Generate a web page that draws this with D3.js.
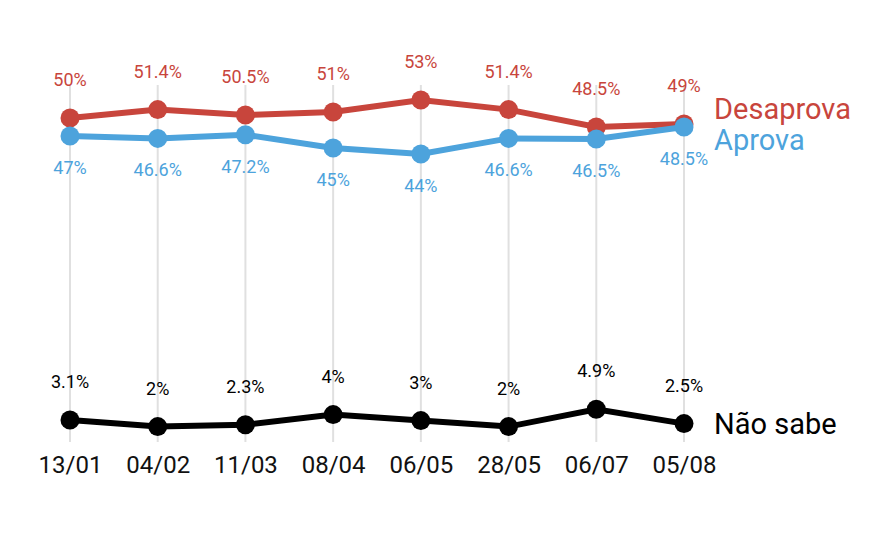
<!DOCTYPE html>
<html><head><meta charset="utf-8">
<script src="https://cdn.jsdelivr.net/npm/d3@7"></script>
<style>body{margin:0;background:#fff}text{font-family:"Liberation Sans Narrow","Roboto",sans-serif}</style>
</head><body><div id="chart"></div>
<script>
const dates = ["13/01","04/02","11/03","08/04","06/05","28/05","06/07","05/08"];
const desaprova = [50, 51.4, 50.5, 51, 53, 51.4, 48.5, 49];
const aprova = [47, 46.6, 47.2, 45, 44, 46.6, 46.5, 48.5];
const naoSabe = [3.1, 2, 2.3, 4, 3, 2, 4.9, 2.5];

const width = 872, height = 540;
const svg = d3.select("#chart").append("svg").attr("width", width).attr("height", height);

const x = d3.scalePoint(dates, [70, 684]);
const yMain = d3.scaleLinear([40, 55], [178, 88]);
const ySmall = d3.scaleLinear([0, 6], [438.6, 402.6]);

svg.append("g").selectAll("line").data(dates).join("line")
  .attr("x1", d => x(d)).attr("x2", d => x(d))
  .attr("y1", 85).attr("y2", 442)
  .attr("stroke", "#e0e0e0").attr("stroke-width", 2);

svg.append("g").attr("transform", "translate(0,442)")
  .call(d3.axisBottom(x).tickSize(0).tickPadding(14))
  .call(g => g.select(".domain").remove())
  .call(g => g.selectAll("text").attr("font-size", 24).attr("fill", "#111")
    .attr("font-family", "Liberation Sans Narrow, Roboto, sans-serif"));

const series = [
  {name: "Desaprova", values: desaprova, y: yMain, color: "#c8453c", dy: -32, size: 18},
  {name: "Aprova", values: aprova, y: yMain, color: "#4da3dc", dy: 38, size: 18},
  {name: "Não sabe", values: naoSabe, y: ySmall, color: "#000", dy: -32, size: 18}
];

series.forEach(s => {
  const line = d3.line().x((d, i) => x(dates[i])).y(d => s.y(d));
  svg.append("path").datum(s.values).attr("d", line)
    .attr("fill", "none").attr("stroke", s.color).attr("stroke-width", 6);
  svg.append("g").selectAll("circle").data(s.values).join("circle")
    .attr("cx", (d, i) => x(dates[i])).attr("cy", d => s.y(d)).attr("r", 9.5)
    .attr("fill", s.color);
  svg.append("g").selectAll("text").data(s.values).join("text")
    .attr("x", (d, i) => x(dates[i])).attr("y", d => s.y(d) + s.dy)
    .attr("text-anchor", "middle").attr("font-size", s.size).attr("fill", s.color)
    .text(d => d + "%");
});

svg.append("text").attr("x", 714).attr("y", 119).attr("font-size", 29)
  .attr("fill", "#c8453c").text("Desaprova");
svg.append("text").attr("x", 714).attr("y", 150).attr("font-size", 29)
  .attr("fill", "#4da3dc").text("Aprova");
svg.append("text").attr("x", 714).attr("y", 434).attr("font-size", 29)
  .attr("fill", "#000").text("Não sabe");
</script></body></html>
